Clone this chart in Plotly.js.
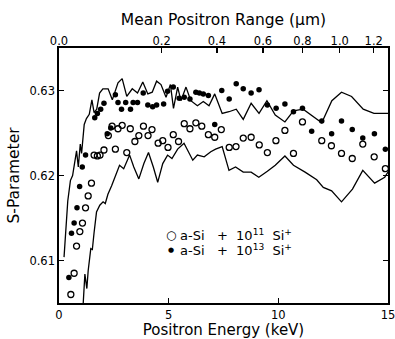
<!DOCTYPE html>
<html>
<head>
<meta charset="utf-8">
<script src="https://cdn.plot.ly/plotly-3.0.1.min.js"></script>
<style>html,body{margin:0;padding:0;background:#fff;}#plot{width:395px;height:339px;}</style>
</head>
<body>
<div id="plot"></div>
<script>
// Open circles: a-Si + 10^11 Si+
const energy11 = [0.54,0.69,0.80,0.95,1.07,1.21,1.33,1.48,1.60,1.75,1.87,2.05,2.25,2.42,2.57,2.69,2.88,3.09,3.25,3.46,3.64,3.85,4.06,4.24,4.52,4.73,4.97,5.21,5.45,5.71,5.97,6.24,6.51,6.81,7.10,7.40,7.76,8.07,8.40,8.76,9.13,9.50,9.89,10.30,10.69,11.10,11.98,12.42,12.88,13.37,13.85,14.37,14.88];
const sparam11 = [0.6060,0.6085,0.6117,0.6134,0.6144,0.6162,0.6176,0.6191,0.6224,0.6223,0.6224,0.6230,0.6247,0.6258,0.6231,0.6255,0.6259,0.6227,0.6255,0.6240,0.6247,0.6258,0.6247,0.6254,0.6238,0.6241,0.6233,0.6248,0.6240,0.6261,0.6255,0.6262,0.6258,0.6248,0.6245,0.6254,0.6233,0.6234,0.6244,0.6245,0.6236,0.6227,0.6241,0.6253,0.6226,0.6263,0.6241,0.6235,0.6226,0.6220,0.6237,0.6222,0.6208];

// Filled circles: a-Si + 10^13 Si+
const energy13 = [0.45,0.57,0.69,0.82,0.94,1.06,1.21,1.63,1.75,1.90,2.05,2.20,2.36,2.57,2.69,2.85,3.04,3.26,3.38,3.58,3.84,4.05,4.27,4.45,4.77,4.95,5.21,5.48,5.71,5.97,6.24,6.40,6.58,6.81,7.10,7.42,7.76,8.08,8.40,8.76,9.12,9.50,9.90,10.30,10.69,11.10,11.52,11.98,12.43,12.88,13.37,13.85,14.38,14.88];
const sparam13 = [0.6080,0.6132,0.6144,0.6162,0.6187,0.6210,0.6224,0.6268,0.6273,0.6278,0.6285,0.6249,0.6256,0.6295,0.6286,0.6278,0.6286,0.6278,0.6286,0.6286,0.6297,0.6283,0.6281,0.6283,0.6284,0.6299,0.6304,0.6291,0.6292,0.6290,0.6298,0.6297,0.6296,0.6294,0.6260,0.6300,0.6290,0.6308,0.6302,0.6297,0.6301,0.6283,0.6279,0.6284,0.6275,0.6279,0.6252,0.6264,0.6249,0.6264,0.6254,0.6244,0.6249,0.6231];

// Upper solid curve
const energyUpper = [0.23,0.40,0.52,0.62,0.80,0.88,0.97,1.03,1.15,1.25,1.38,1.50,1.60,1.72,1.85,2.00,2.24,2.43,2.69,2.88,3.09,3.34,3.58,3.82,4.05,4.25,4.45,4.65,4.88,5.08,5.22,5.41,5.56,5.79,6.01,6.31,6.58,6.84,7.10,7.44,7.75,8.08,8.40,8.76,9.12,9.48,9.86,10.30,10.69,11.13,11.98,12.44,12.88,13.34,13.87,14.36,15.00];
const sparamUpper = [0.6104,0.6170,0.6194,0.6200,0.6229,0.6210,0.6237,0.6226,0.6260,0.6267,0.6272,0.6289,0.6274,0.6278,0.6297,0.6302,0.6302,0.6289,0.6309,0.6314,0.6293,0.6302,0.6297,0.6310,0.6296,0.6298,0.6311,0.6307,0.6292,0.6307,0.6279,0.6304,0.6288,0.6304,0.6288,0.6282,0.6287,0.6282,0.6296,0.6273,0.6275,0.6278,0.6266,0.6285,0.6273,0.6288,0.6271,0.6263,0.6276,0.6278,0.6262,0.6288,0.6298,0.6293,0.6278,0.6273,0.6273];

// Lower solid curve
const energyLower = [1.10,1.18,1.27,1.33,1.45,1.52,1.60,1.71,1.86,2.01,2.11,2.23,2.40,2.57,2.76,2.95,3.22,3.41,3.64,3.87,4.08,4.30,4.50,4.73,4.95,5.15,5.41,5.70,6.10,6.31,6.62,6.92,7.14,7.44,7.75,8.05,8.40,8.76,9.11,9.50,9.86,10.30,10.69,11.22,11.75,12.05,12.43,12.88,13.38,13.85,14.39,14.85,15.00];
const sparamLower = [0.6048,0.6084,0.6067,0.6088,0.6114,0.6113,0.6133,0.6157,0.6165,0.6169,0.6167,0.6178,0.6188,0.6200,0.6212,0.6208,0.6224,0.6210,0.6196,0.6214,0.6227,0.6210,0.6192,0.6214,0.6224,0.6220,0.6231,0.6238,0.6218,0.6224,0.6222,0.6228,0.6231,0.6234,0.6206,0.6210,0.6204,0.6204,0.6198,0.6205,0.6212,0.6223,0.6212,0.6204,0.6195,0.6186,0.6182,0.6169,0.6184,0.6206,0.6191,0.6198,0.6204];

// Top axis: mean positron range tick labels and their energy positions (keV)
const rangeTickLabels = ['0.0','0.2','0.4','0.6','0.8','1.0','1.2'];
const rangeTickEnergy = [0, 4.68, 7.2, 9.3, 11.1, 12.8, 14.35];

const energyTicks = [0,5,10,15];
const sTicks = [0.61,0.62,0.63];

const seriesLabels = ['a-Si\u00a0\u00a0\u00a0+\u00a0\u00a010<sup>11</sup>\u00a0\u00a0Si<sup>+</sup>',
                      'a-Si\u00a0\u00a0\u00a0+\u00a0\u00a010<sup>13</sup>\u00a0\u00a0Si<sup>+</sup>'];

const FONT = 'DejaVu Sans, Verdana, sans-serif';

const traces = [
  {x: energyUpper, y: sparamUpper, type:'scatter', mode:'lines', line:{color:'#000', width:1.3}, showlegend:false, hoverinfo:'skip'},
  {x: energyLower, y: sparamLower, type:'scatter', mode:'lines', line:{color:'#000', width:1.3}, showlegend:false, hoverinfo:'skip'},
  {x: energy11, y: sparam11, type:'scatter', mode:'markers', name:seriesLabels[0], showlegend:false,
   marker:{symbol:'circle-open', size:6, color:'#000', line:{width:1.3, color:'#000'}}},
  {x: energy13, y: sparam13, type:'scatter', mode:'markers', name:seriesLabels[1], showlegend:false,
   marker:{symbol:'circle', size:5.5, color:'#000'}},
  {x: [null], y: [null], xaxis:'x2', type:'scatter', mode:'markers', showlegend:false, hoverinfo:'skip'}
];

// plot area in pixels: left 59, right 388, top 48, bottom 303
const PW = 388-59, PH = 303-48;
const legX = (171-59)/PW, legTextX = (178-59)/PW;
const row1 = (303-235)/PH, row2 = (303-250)/PH;

const annotations = [
  {xref:'paper', yref:'paper', x:legX, y:row1, text:'\u25CB', showarrow:false, xanchor:'center', yanchor:'middle', font:{family:FONT, size:12, color:'#000'}},
  {xref:'paper', yref:'paper', x:legX, y:row2, text:'\u25CF', showarrow:false, xanchor:'center', yanchor:'middle', font:{family:FONT, size:7, color:'#000'}},
  {xref:'paper', yref:'paper', x:legTextX, y:row1, text:seriesLabels[0], showarrow:false, xanchor:'left', yanchor:'middle', font:{family:FONT, size:13, color:'#000'}},
  {xref:'paper', yref:'paper', x:legTextX, y:row2, text:seriesLabels[1], showarrow:false, xanchor:'left', yanchor:'middle', font:{family:FONT, size:13, color:'#000'}}
];

const layout = {
  width:395, height:339,
  margin:{l:59, r:7, t:48, b:36},
  paper_bgcolor:'#fff', plot_bgcolor:'#fff',
  font:{family:FONT, color:'#000', size:12},
  showlegend:false,
  annotations: annotations,
  xaxis:{range:[0,15], tickvals:energyTicks, ticktext:energyTicks.map(String),
         ticks:'inside', ticklen:5, tickwidth:1.2, tickcolor:'#000',
         showline:true, linewidth:1.7, linecolor:'#000', mirror:true,
         showgrid:false, zeroline:false, ticklabeloverflow:'allow', automargin:false,
         tickfont:{size:11.5, family:FONT},
         title:{text:'Positron Energy (keV)', font:{size:15, family:FONT}, standoff:3}},
  xaxis2:{range:[0,15], overlaying:'x', side:'top', anchor:'y',
          tickvals:rangeTickEnergy, ticktext:rangeTickLabels,
          ticks:'inside', ticklen:5, tickwidth:1.2, tickcolor:'#000',
          showline:false, showgrid:false, zeroline:false, ticklabeloverflow:'allow', automargin:false,
          tickfont:{size:11.5, family:FONT},
          title:{text:'Mean Positron Range (μm)', font:{size:15.5, family:FONT}, standoff:4}},
  yaxis:{range:[0.605,0.635], tickvals:sTicks, ticktext:sTicks.map(v=>v.toFixed(2)),
         ticks:'inside', ticklen:5, tickwidth:1.2, tickcolor:'#000',
         showline:true, linewidth:1.7, linecolor:'#000', mirror:'ticks',
         showgrid:false, zeroline:false, automargin:false,
         tickfont:{size:11.5, family:FONT},
         title:{text:'S-Parameter', font:{size:15.5, family:FONT}, standoff:6}}
};

Plotly.newPlot('plot', traces, layout, {displayModeBar:false, staticPlot:true});
</script>
</body>
</html>
